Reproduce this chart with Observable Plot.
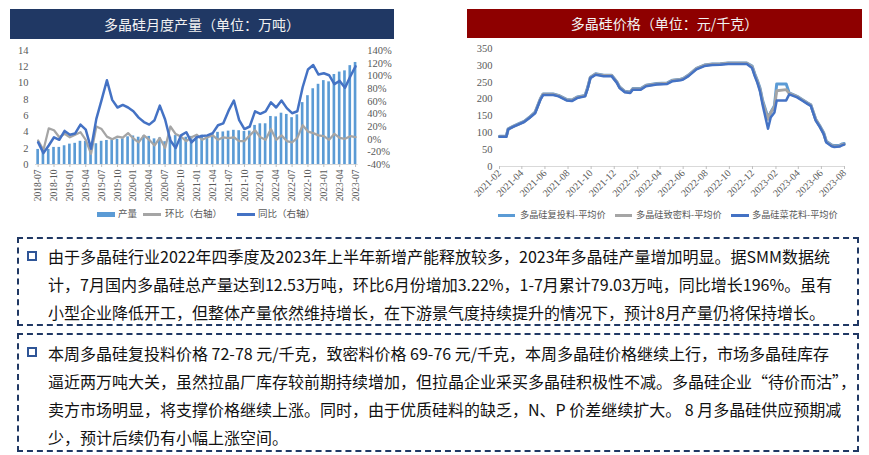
<!DOCTYPE html>
<html><head><meta charset="utf-8">
<script src="https://cdn.jsdelivr.net/npm/d3@7"></script>
<script src="https://cdn.jsdelivr.net/npm/@observablehq/plot@0.6"></script>
<style>
body{margin:0;background:#fff;}
#wrap{position:relative;width:869px;height:455px;overflow:hidden;font-family:"Noto Sans CJK SC",sans-serif;}
.banner{position:absolute;color:#f2f2f2;font-size:14px;text-align:center;}
.plotbox{position:absolute;}
.leg{position:absolute;font-family:"Liberation Serif","Noto Sans CJK SC",serif;font-size:9.5px;color:#595959;line-height:14px;white-space:nowrap;}
.sw{position:absolute;}
.box{position:absolute;left:17px;width:842px;box-sizing:border-box;border:2px dashed #203864;}
.bullet{position:absolute;left:8px;width:10px;height:10px;box-sizing:border-box;border:2px solid #2F5597;}
.ln{position:absolute;left:29px;font-size:16px;line-height:28px;white-space:nowrap;color:#111;}
</style>
</head><body>
<div id="wrap">
  <div class="banner" style="left:10px;top:9px;width:384px;height:30px;line-height:30px;background:#203864;">多晶硅月度产量（单位：万吨）</div>
  <div class="banner" style="left:467px;top:9px;width:395px;height:29px;line-height:29px;background:#8E0000;">多晶硅价格（单位：元/千克）</div>
  <div id="left1" class="plotbox" style="left:0;top:40px;"></div>
  <div id="left2" class="plotbox" style="left:0;top:40px;"></div>
  <div id="right1" class="plotbox" style="left:460px;top:40px;"></div>

  <div class="sw" style="left:97px;top:212px;width:18px;height:5px;background:#5B9BD5;"></div>
  <div class="leg" style="left:118px;top:207px;">产量</div>
  <div class="sw" style="left:143px;top:213px;width:18px;height:2.5px;background:#A5A5A5;"></div>
  <div class="leg" style="left:165px;top:207px;">环比（右轴）</div>
  <div class="sw" style="left:237px;top:213px;width:18px;height:2.5px;background:#4472C4;"></div>
  <div class="leg" style="left:258px;top:207px;">同比（右轴）</div>

  <div class="sw" style="left:498px;top:214px;width:17px;height:3px;background:#5B9BD5;"></div>
  <div class="leg" style="left:520px;top:208px;font-size:9.2px;">多晶硅复投料-平均价</div>
  <div class="sw" style="left:615px;top:214px;width:17px;height:3px;background:#A5A5A5;"></div>
  <div class="leg" style="left:636px;top:208px;font-size:9.2px;">多晶硅致密料-平均价</div>
  <div class="sw" style="left:731px;top:214px;width:18px;height:3px;background:#4472C4;"></div>
  <div class="leg" style="left:752px;top:208px;font-size:9.2px;">多晶硅菜花料-平均价</div>

  <div class="box" style="top:237px;height:89px;">
    <span class="bullet" style="top:12px;"></span>
    <div class="ln" style="top:3px;">由于多晶硅行业2022年四季度及2023年上半年新增产能释放较多，2023年多晶硅产量增加明显。据SMM数据统</div>
    <div class="ln" style="top:31px;">计，7月国内多晶硅总产量达到12.53万吨，环比6月份增加3.22%，1-7月累计79.03万吨，同比增长196%。虽有</div>
    <div class="ln" style="top:59px;">小型企业降低开工，但整体产量依然维持增长，在下游景气度持续提升的情况下，预计8月产量仍将保持增长。</div>
  </div>
  <div class="box" style="top:333px;height:119px;">
    <span class="bullet" style="top:12px;"></span>
    <div class="ln" style="top:4px;">本周多晶硅复投料价格 72-78 元/千克，致密料价格 69-76 元/千克，本周多晶硅价格继续上行，市场多晶硅库存</div>
    <div class="ln" style="top:32px;">逼近两万吨大关，虽然拉晶厂库存较前期持续增加，但拉晶企业采买多晶硅积极性不减。多晶硅企业“待价而沽”，</div>
    <div class="ln" style="top:60px;">卖方市场明显，将支撑价格继续上涨。同时，由于优质硅料的缺乏，N、P 价差继续扩大。 8 月多晶硅供应预期减</div>
    <div class="ln" style="top:88px;">少，预计后续仍有小幅上涨空间。</div>
  </div>
</div>
<script>
// ---------- Left chart data: monthly 2018-07 .. 2023-07 ----------
const fmtM = d3.utcFormat("%Y-%m");
const months = d3.utcMonths(new Date(Date.UTC(2018,6,1)), new Date(Date.UTC(2023,7,1))).map(fmtM);
const output = [1.85,1.6,1.85,2.1,2.1,2.3,2.5,2.6,2.85,2.85,2.2,2.55,2.85,2.95,3.0,3.1,3.15,3.4,3.5,3.35,
  3.5,3.45,3.15,3.25,2.8,3.35,3.55,3.45,3.35,3.45,3.4,3.6,3.5,3.75,3.95,4.0,4.1,4.2,4.15,4.05,
  4.1,4.8,5.0,5.0,5.9,5.85,6.3,6.15,5.75,6.1,7.6,8.45,9.3,9.85,10.3,10.15,11.05,11.35,11.5,12.14,12.53];
const mom = [-2,-17,17,14,3,8.5,3,7,11,-1,-23,20,16,4,0,4,2.5,9.5,1,-5,
  6,-1,-10,2,-14,20,8,4,-3,3,7,-1,3,6,-1,3,1.6,3,-3,-3,
  6,14,3,-1,16,-1,6,-3,-5,2,22,12,9.5,6,4.7,-1,8.5,2,0.5,4.7,3.2];
const yoy = [-5,-22,-10,3,-1,13,7,9,23,15,-15,32,62,93,62,50,54,50,44,34,
  27,23,30,53,31,-2,-14,6,11,-5,3,5,6,9.5,22,25,45,61,30,16,
  20,44,40,44,58,50,61,49,41,44,82,110,117,102,104,101,87,92,81,99,115];
const leftTicks = [0,2,4,6,8,10,12,14];
const rightTicks = [-40,-20,0,20,40,60,80,100,120,140];
const monthTicks = months.filter((d,i) => i % 3 === 0);

// ---------- Right chart data: price (yuan/kg) ----------
const priceDates = ["2021-02-01","2021-02-19","2021-02-24","2021-03-10","2021-03-24","2021-04-07","2021-04-21","2021-05-06","2021-05-13","2021-05-20",
  "2021-05-27","2021-06-23","2021-07-07","2021-07-28","2021-08-11","2021-08-25","2021-09-15","2021-09-22","2021-09-29","2021-10-13",
  "2021-11-03","2021-11-24","2021-12-08","2021-12-15","2021-12-29","2022-01-12","2022-01-19","2022-02-09","2022-02-23","2022-03-23",
  "2022-04-20","2022-05-04","2022-05-25","2022-06-01","2022-06-15","2022-07-06","2022-07-27","2022-08-17","2022-09-07","2022-09-28",
  "2022-11-16","2022-11-30","2022-12-07","2022-12-14","2022-12-21","2022-12-28","2023-01-11","2023-01-18","2023-01-28","2023-02-03",
  "2023-02-28","2023-03-08","2023-03-29","2023-04-12","2023-04-26","2023-05-04","2023-05-17","2023-05-28","2023-06-07","2023-06-14",
  "2023-06-28","2023-07-05","2023-07-19","2023-07-26","2023-07-31"];
const priceFuTou = [90,90,112,120,127,134,146,161,181,201,
  215,215,211,199,197,206,211,235,265,275,
  271,271,251,236,223,221,231,231,241,246,
  248,256,259,261,271,291,301,304,305,307,
  307,298,275,255,232,195,145,160,180,245,
  245,218,208,198,188,183,140,120,100,75,
  64,62,63,67,68];
const priceZhiMi = [89,89,111,119,126,133,145,160,180,200,
  214,214,210,198,196,205,210,234,264,274,
  270,270,250,235,222,220,230,230,240,245,
  247,255,258,260,270,290,300,303,304,306,
  306,296,272,252,228,190,140,160,176,225,
  228,217,207,197,187,182,139,119,98,73,
  62,60,61,65,66];
const priceCaiHua = [88,88,110,118,125,132,144,158,178,198,
  212,212,208,196,194,203,208,232,262,272,
  268,268,248,233,220,218,228,228,238,243,
  245,253,256,258,268,288,298,301,302,304,
  304,292,268,248,222,182,112,145,160,196,
  196,214,205,195,185,180,136,117,96,71,
  60,58,59,63,65];

const serif = "'Liberation Serif','Times New Roman',serif";
const baseStyle = {fontFamily: serif, color: "#595959", background: "transparent", overflow: "visible"};

const prodRows = months.map((m, i) => ({month: m, value: output[i]}));
const momRows = months.map((m, i) => ({month: m, value: mom[i]}));
const yoyRows = months.map((m, i) => ({month: m, value: yoy[i]}));

const W = 400, H = 165, ML = 35, MR = 42.3, MT = 10, MB = 41;

const p1 = Plot.plot({
  width: W, height: H, marginLeft: ML, marginRight: MR, marginTop: MT, marginBottom: MB,
  style: baseStyle,
  x: {type: "band", domain: months, paddingInner: 0.5, paddingOuter: 0.25, round: false},
  y: {domain: [0, 14]},
  marks: [
    Plot.barY(prodRows, {x: "month", y: "value", fill: "#5B9BD5"}),
    Plot.ruleY([0], {stroke: "#D9D9D9"}),
    Plot.axisY({ticks: leftTicks, tickSize: 0, tickPadding: 7, fontSize: 10.5, label: null}),
    Plot.axisX({ticks: monthTicks, tickRotate: -90, tickSize: 3, tickPadding: 2, fontSize: 9.5, label: null, stroke: "#BFBFBF"})
  ]
});
document.getElementById("left1").appendChild(p1);

const p2 = Plot.plot({
  width: W, height: H, marginLeft: ML, marginRight: MR, marginTop: MT, marginBottom: MB,
  style: baseStyle,
  x: {type: "point", domain: months, padding: 0.5, round: false, axis: null},
  y: {domain: [-40, 140]},
  marks: [
    Plot.lineY(momRows, {x: "month", y: "value", stroke: "#A5A5A5", strokeWidth: 2.25}),
    Plot.lineY(yoyRows, {x: "month", y: "value", stroke: "#4472C4", strokeWidth: 2.5}),
    Plot.axisY({anchor: "right", ticks: rightTicks, tickFormat: d => d + "%", tickSize: 0, tickPadding: 9, fontSize: 10.5, label: null})
  ]
});
document.getElementById("left2").appendChild(p2);

const parse = d3.utcParse("%Y-%m-%d");
const priceRows = priceDates.map((d, i) => ({date: parse(d), fu: priceFuTou[i], zm: priceZhiMi[i], ch: priceCaiHua[i]}));
const pStart = new Date(Date.UTC(2021,1,1)), pEnd = new Date(Date.UTC(2023,7,1));
const pTicks = d3.utcMonths(pStart, new Date(Date.UTC(2023,7,2))).filter((d, i) => i % 2 === 0);
const priceTicks = [0,50,100,150,200,250,300,350];

const p3 = Plot.plot({
  width: 409, height: 165, marginLeft: 39, marginRight: 25, marginTop: 8, marginBottom: 39,
  style: baseStyle,
  x: {type: "utc", domain: [pStart, pEnd]},
  y: {domain: [0, 350]},
  marks: [
    Plot.lineY(priceRows, {x: "date", y: "fu", stroke: "#5B9BD5", strokeWidth: 3}),
    Plot.lineY(priceRows, {x: "date", y: "zm", stroke: "#A5A5A5", strokeWidth: 3}),
    Plot.lineY(priceRows, {x: "date", y: "ch", stroke: "#4472C4", strokeWidth: 2.5}),
    Plot.ruleY([0], {stroke: "#D9D9D9"}),
    Plot.axisY({ticks: priceTicks, tickSize: 0, tickPadding: 7, fontSize: 10.5, label: null}),
    Plot.axisX({ticks: pTicks, tickFormat: d3.utcFormat("%Y-%m"), tickRotate: -45, tickSize: 3, tickPadding: 2, fontSize: 10, label: null, stroke: "#BFBFBF"})
  ]
});
document.getElementById("right1").appendChild(p3);
</script>
</body></html>
